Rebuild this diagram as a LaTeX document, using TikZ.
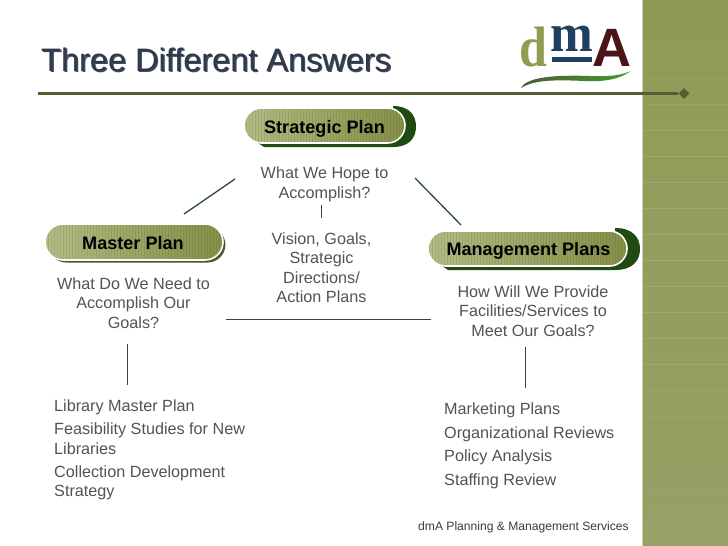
\documentclass[tikz,border=0pt]{standalone}
\usepackage{fontspec}
\setmainfont{Liberation Sans}
\newfontfamily\logofont{Liberation Serif}
\usetikzlibrary{shapes.geometric,shadings}
\definecolor{band}{HTML}{8F9B54}
\definecolor{bandlow}{HTML}{96A266}
\definecolor{bandline}{HTML}{B4BD8E}
\definecolor{bandedge}{HTML}{CBD1AE}
\definecolor{rulecol}{HTML}{565D34}
\definecolor{titlecol}{HTML}{2A3A50}
\definecolor{txtcol}{HTML}{505458}
\definecolor{linkcol}{HTML}{2F4550}
\definecolor{crescent}{HTML}{1F4A12}
\definecolor{pillL}{HTML}{B4BD85}
\definecolor{pillR}{HTML}{858F45}
\definecolor{logoD}{HTML}{8E9E50}
\definecolor{logoM}{HTML}{1F4060}
\definecolor{logoA}{HTML}{4A1418}
\tikzset{
  x=1pt,y=-1pt,
  link/.style={draw=linkcol,line width=1.3pt},
  bodytext/.style={text=txtcol,font=\fontsize{16.2}{19.5}\selectfont,align=center,inner sep=0pt},
  listtext/.style={text=txtcol,font=\fontsize{16.2}{19.5}\selectfont,align=left,inner sep=0pt,anchor=north west},
  pilltext/.style={text=black,font=\fontsize{18.1}{20}\selectfont\bfseries,inner sep=0pt},
}
% #1 left #2 top #3 right #4 bottom
\newcommand{\pillbody}[4]{%
  \pgfmathsetmacro{\pr}{(#4-#2)/2}
  \begin{scope}
    \path[clip,rounded corners=\pr pt] (#1,#2) rectangle (#3,#4);
    \shade[left color=pillL,right color=pillR] (#1,#2) rectangle (#3,#4);
    \foreach \xx in {#1,...,#3}{
      \pgfmathparse{int(mod(\xx,3))}
      \ifnum\pgfmathresult=0
        \draw[black!45!pillR,opacity=.16,line width=.7pt] (\xx,#2) -- (\xx,#4);
      \fi}
  \end{scope}
  \draw[white,line width=1.6pt,rounded corners=\pr pt] (#1,#2) rectangle (#3,#4);
}
% crescent: #1 left #2 inner x #3 right #4 top #5 bottom #6 pill bottom
\newcommand{\crescentshape}[6]{%
  \fill[crescent] (#2,#4) .. controls ({#2+(#3-#2)*0.7},#4) and (#3,{#4+(#5-#4)*0.22}) .. (#3,{(#4+#5)/2})
    .. controls (#3,{#5-(#5-#4)*0.22}) and ({#2+(#3-#2)*0.7},#5) .. (#2,#5) -- (#1,#5) -- ({#1-6},#6) -- (#2,#6) -- cycle;
}
\begin{document}
\begin{tikzpicture}
\useasboundingbox (0,0) rectangle (728,546);
\fill[white] (0,0) rectangle (728,546);
% right band
\shade[top color=band,bottom color=bandlow] (643,0) rectangle (728,546);
\draw[bandedge,line width=1pt] (642.5,0) -- (642.5,546);
\foreach \yy/\op in {52/.1,78/.18,104/.25,130/.4,156/.4,182/.4,208/.4,234/.4,260/.4,286/.4,312/.4,338/.4,364/.35,390/.25,416/.2,442/.08,468/.08,494/.15,520/.15}{
  \draw[bandline,opacity=\op,line width=.7pt] (643,\yy) -- (728,\yy);}
% logo
\node[font=\logofont\bfseries\fontsize{57}{57}\selectfont,text=logoD,inner sep=0pt,anchor=base] (logod) at (533,66) {\scalebox{.88}[1]{d}};
\node[font=\logofont\bfseries\fontsize{54}{54}\selectfont,text=logoM,inner sep=0pt,anchor=base] (logom) at (572,51) {\scalebox{.95}[1]{m}};
\fill[logoM] (552,57) rectangle (592,62);
\node[font=\fontsize{54}{54}\selectfont\bfseries,text=logoA,inner sep=0pt,anchor=base] (logoa) at (612,66) {A};
\shade[left color=logoM!30!logoD!70!black,right color=logoD!60!green!80!black] (521,88) .. controls (527,76) and (560,75) .. (590,76) .. controls (610,77) and (622,75) .. (631,71) .. controls (620,79) and (605,82) .. (585,81) .. controls (560,80) and (535,79) .. (521,88) -- cycle;
% title
\node[font=\fontsize{32.5}{32.5}\selectfont,text=black!70,inner sep=0pt,anchor=base west] (titleshadow) at (42.3,72.7) {Three Different Answers};
\node[font=\fontsize{32.5}{32.5}\selectfont,text=titlecol,inner sep=0pt,anchor=base west] (title) at (41,71.5) {Three Different Answers};
% rule
\coordinate (ruleL) at (38,93.5);
\node[diamond,fill=rulecol,inner sep=0pt,minimum width=11pt,minimum height=11pt] (ruleD) at (684,93.5) {};
\draw[rulecol,line width=2.2pt] (ruleL) -- (ruleD);
% pills
\crescentshape{264}{393}{416}{106}{147}{143}
\pillbody{244}{108}{405}{143}
\node[pilltext] (strategic) at (324.5,128.5) {Strategic Plan};
\crescentshape{448}{615}{640}{228}{270}{266}
\pillbody{428}{231}{627}{266}
\node[pilltext] (management) at (528.5,250.5) {Management Plans};
\fill[black!40!pillR,rounded corners=18pt] (48,227) rectangle (225.5,262.5);
\pillbody{45}{224}{223}{260}
\node[pilltext] (master) at (133,243) {Master Plan};
% texts
\node[bodytext] (t1) at (324.5,184.5) {What We Hope to\\Accomplish?};
\node[bodytext] (t2) at (321.5,267.5) {Vision, Goals,\\Strategic\\Directions/\\Action Plans};
\node[bodytext] (t3) at (133.5,303) {What Do We Need to\\Accomplish Our\\Goals?};
\node[bodytext] (t4) at (533,311) {How Will We Provide\\Facilities/Services to\\Meet Our Goals?};
\node[listtext] (l1) at (54,400) {Library Master Plan};
\node[listtext] (l2) at (54,423) {Feasibility Studies for New\\Libraries};
\node[listtext] (l3) at (54,465.5) {Collection Development\\Strategy};
\node[listtext] (r1) at (444,403) {Marketing Plans};
\node[listtext] (r2) at (444,427) {Organizational Reviews};
\node[listtext] (r3) at (444,450) {Policy Analysis};
\node[listtext] (r4) at (444,474) {Staffing Review};
\node[inner sep=0pt,font=\fontsize{12.1}{13}\selectfont,text=txtcol!70!black,anchor=base west] (footer) at (418,530) {dmA Planning \& Management Services};
% connectors
\coordinate (a1) at (235,179); \coordinate (a2) at (184,214);
\coordinate (b1) at (415,178); \coordinate (b2) at (461,225);
\coordinate (c1) at (321.5,205); \coordinate (c2) at (321.5,218);
\coordinate (d1) at (226,319.5); \coordinate (d2) at (431,319.5);
\coordinate (e1) at (127.5,344); \coordinate (e2) at (127.5,385);
\coordinate (f1) at (525.5,347); \coordinate (f2) at (525.5,388);
\foreach \p/\q in {a1/a2,b1/b2,c1/c2,d1/d2,e1/e2,f1/f2}{\draw[link] (\p) -- (\q);}
\end{tikzpicture}
\end{document}
